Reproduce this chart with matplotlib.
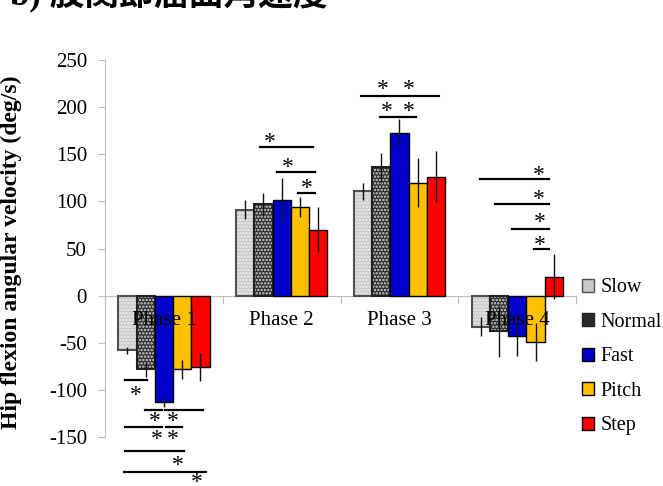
import matplotlib
matplotlib.use("Agg")
import matplotlib.pyplot as plt
import numpy as np
from matplotlib.patches import Patch

plt.rcParams['font.family'] = ['Liberation Serif', 'Noto Sans CJK JP']
plt.rcParams['hatch.linewidth'] = 1.2
plt.rcParams['axes.unicode_minus'] = False

phases = ['Phase 1', 'Phase 2', 'Phase 3', 'Phase 4']
conditions = ['Slow', 'Normal', 'Fast', 'Pitch', 'Step']

# mean values (deg/s)
slow = [-58, 91, 111, -33]
normal = [-78, 97, 136, -38]
fast = [-113, 102, 173, -43]
pitch = [-78, 94, 120, -49]
step = [-76, 70, 126, 20]
means = [slow, normal, fast, pitch, step]

slow_sd = [4, 10, 9, 10]
normal_sd = [8, 12, 15, 27]
fast_sd = [5, 23, 14, 21]
pitch_sd = [10, 11, 26, 20]
step_sd = [15, 24, 27, 24]
sds = [slow_sd, normal_sd, fast_sd, pitch_sd, step_sd]

# significance brackets: (x start, x end, line y, star x, star y), x in category units
sig_lines = [
  (-0.33, -0.14, -90, -0.236, -106),
  (-0.16, -0.02, -121, -0.074, -134),
  (0.01, 0.33, -121, 0.079, -134),
  (-0.33, -0.015, -139, -0.057, -153),
  (0.02, 0.155, -139, 0.079, -153),
  (-0.33, 0.17, -165, 0.121, -180),
  (-0.34, 0.36, -187, 0.283, -198),
  (0.82, 1.27, 158, 0.896, 162),
  (0.96, 1.28, 131, 1.049, 136),
  (1.14, 1.28, 109, 1.211, 114),
  (1.67, 1.977, 212, 1.857, 219),
  (1.994, 2.334, 212, 2.079, 219),
  (1.832, 1.977, 190, 1.891, 195),
  (1.994, 2.138, 190, 2.079, 195),
  (2.683, 3.27, 124, 3.185, 128),
  (2.811, 3.27, 97, 3.185, 102),
  (2.955, 3.27, 71, 3.194, 78),
  (3.143, 3.27, 49, 3.194, 53),
]

face = ['#c8c8c8', '#2a2a2a', '#0000cc', '#ffc000', '#ff0000']
hatch = ['.....', '.....', None, None, None]
hatch_col = ['#f0f0f0', '#d8d8d8', None, None, None]
edge = ['#505050', '#202020', '#000000', '#000000', '#000000']

fig = plt.figure(figsize=(6.63, 4.86), dpi=100)
ax = fig.add_axes([0.1584, 0.1008, 0.7106, 0.7757])

x = np.arange(len(phases))
w = 0.155
for i in range(5):
  xi = x + (i - 2) * w
  if hatch[i] is not None:
    ax.bar(xi, means[i], w, color=face[i], edgecolor=hatch_col[i], hatch=hatch[i], linewidth=0, zorder=2)
    ax.bar(xi, means[i], w, fill=False, edgecolor=edge[i], linewidth=1.5, zorder=3)
  else:
    ax.bar(xi, means[i], w, color=face[i], edgecolor=edge[i], linewidth=1.0, zorder=3)
  ax.errorbar(xi, means[i], yerr=sds[i], fmt='none', ecolor='#111111', elinewidth=1.0, capsize=0, zorder=4)

for x0, x1, ly, sx, sy in sig_lines:
  ax.plot([x0, x1], [ly, ly], color='black', lw=1.6, clip_on=False, zorder=5)
  ax.text(sx, sy, '*', ha='center', va='center', fontsize=17, clip_on=False, zorder=5)

for i, p in enumerate(phases):
  ax.text(x[i], -26.5, p, ha='center', va='center', fontsize=15, zorder=6)

ax.set_xlim(-0.5, 3.5)
ax.set_ylim(-150, 250)
ax.set_yticks(np.arange(-150, 251, 50))
ax.set_xticks(np.arange(-0.5, 3.6, 1.0))
ax.set_xticklabels([])
ax.spines['top'].set_visible(False)
ax.spines['right'].set_visible(False)
ax.spines['bottom'].set_position(('data', 0))
ax.spines['bottom'].set_color('#bfbfbf')
ax.spines['left'].set_color('#bfbfbf')
ax.tick_params(axis='y', colors='#bfbfbf', labelcolor='black', labelsize=15, length=5, pad=8)
ax.tick_params(axis='x', colors='#bfbfbf', length=6, direction='out')
ax.set_ylabel('Hip flexion angular velocity (deg/s)', fontsize=17, fontweight='bold')
ax.yaxis.set_label_coords(-0.177, 0.49)

handles = [Patch(facecolor=face[i], edgecolor=edge[i], linewidth=1.0) for i in range(5)]
fig.legend(handles, conditions, loc='upper left', bbox_to_anchor=(0.866, 0.444),
           frameon=False, fontsize=14.5, handlelength=0.6, handleheight=0.6,
           handletextpad=0.3, labelspacing=0.77, borderaxespad=0)

fig.text(0.015, 1.0 + 7 / 486, 'b) 股関節屈曲角速度', fontsize=25, fontweight='bold',
         ha='left', va='center')

fig.savefig('out.png', dpi=100)
